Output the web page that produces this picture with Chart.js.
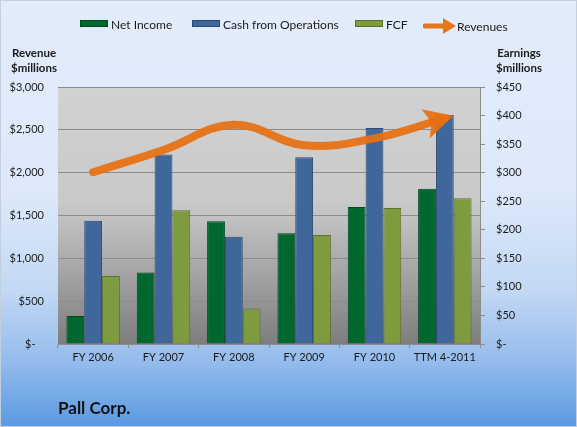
<!DOCTYPE html>
<html>
<head>
<meta charset="utf-8">
<title>Pall Corp.</title>
<script src="https://cdn.jsdelivr.net/npm/chart.js@4.4.1/dist/chart.umd.min.js"></script>
<style>
  html, body { margin: 0; padding: 0; }
  body { width: 577px; height: 427px; overflow: hidden; font-family: Lato, "Open Sans", sans-serif; color: #1a1a1a; }
  #wrap {
    position: relative; width: 577px; height: 427px; box-sizing: border-box;
    border: 1px solid #c4cfdd;
    background: linear-gradient(to bottom, #e2ecfb 0%, #dde9fa 45%, #c3d8f4 68%, #94bbec 85%, #5b9ae2 100%);
  }
  #chart { position: absolute; left: 0; top: 0; }
  .lg { position: absolute; top: 17px; font-size: 12px; line-height: 14px; white-space: nowrap; }
  .lg .box { display: inline-block; width: 28px; height: 7px; vertical-align: 2px; margin-right: 3px; box-sizing: border-box; }
  .lg svg { vertical-align: -3px; margin-right: 1px; }
  .axt { position: absolute; top: 44px; font-size: 11.5px; font-weight: bold; line-height: 15px; text-align: center; }
  #title { position: absolute; left: 57px; top: 396px; font-size: 17px; font-weight: bold; color: #111; }
</style>
</head>
<body>
<div id="wrap">
  <canvas id="chart" width="577" height="427"></canvas>

  <div class="lg" style="left:79px"><span class="box" style="background:#00682f;border:1px solid #004a20"></span>Net Income</div>
  <div class="lg" style="left:191px"><span class="box" style="background:#3f679b;border:1px solid #2a4a73"></span>Cash from Operations</div>
  <div class="lg" style="left:354px"><span class="box" style="background:#7f9b40;border:1px solid #5c722c"></span>FCF</div>
  <div class="lg" style="left:422px"><svg width="33" height="16" viewBox="0 0 33 16"><line x1="2" y1="8" x2="22" y2="8" stroke="#e8761a" stroke-width="5" stroke-linecap="round"/><polygon points="20,0 33,8 20,16" fill="#e8761a"/></svg>Revenues</div>

  <div class="axt" style="left:8px;width:50px">Revenue<br>$millions</div>
  <div class="axt" style="left:493px;width:50px">Earnings<br>$millions</div>
  <div id="title">Pall Corp.</div>
</div>

<script>
  // values, $ millions
  const categories = ['FY 2006', 'FY 2007', 'FY 2008', 'FY 2009', 'FY 2010', 'TTM 4-2011']
  const revenues = [2005, 2265, 2560, 2320, 2400, 2635]
  const netIncome = [49, 125, 215, 194, 240, 272]
  const cashFromOps = [216, 332, 188, 327, 378, 401]
  const fcf = [119, 234, 62, 191, 238, 255]

  const gridGray = '#8c8c8c'
  const lineOrange = 'rgba(230,112,18,0.93)'

  // gray gradient behind the plot
  const plotBackground = {
    id: 'plotBackground',
    beforeDraw(chart) {
      const { ctx, chartArea: a } = chart
      const g = ctx.createLinearGradient(0, a.top, 0, a.bottom)
      g.addColorStop(0, '#d2d2d2')
      g.addColorStop(0.45, '#c9c9c9')
      g.addColorStop(0.72, '#a5a5a5')
      g.addColorStop(1, '#7d7d7d')
      ctx.save()
      ctx.fillStyle = g
      ctx.fillRect(a.left, a.top, a.right - a.left, a.bottom - a.top)
      ctx.restore()
    }
  }

  // arrow head at the end of the revenue line
  const arrowHead = {
    id: 'arrowHead',
    afterDatasetsDraw(chart) {
      const meta = chart.getDatasetMeta(0)
      const pts = meta.data
      if (!pts.length) return
      const p = pts[pts.length - 1]
      const q = pts[pts.length - 2]
      let dx = p.x - (p.cp1x !== undefined ? p.cp1x : q.x)
      let dy = p.y - (p.cp1y !== undefined ? p.cp1y : q.y)
      const len = Math.hypot(dx, dy) || 1
      dx /= len; dy /= len
      const tipX = p.x + dx * 9, tipY = p.y + dy * 9
      const L = 29, W = 15
      const bx = tipX - dx * L, by = tipY - dy * L
      const { ctx } = chart
      ctx.save()
      ctx.fillStyle = lineOrange
      ctx.beginPath()
      ctx.moveTo(tipX, tipY)
      ctx.lineTo(bx - dy * W, by + dx * W)
      ctx.lineTo(bx + dx * 6, by + dy * 6)
      ctx.lineTo(bx + dy * W, by - dx * W)
      ctx.closePath()
      ctx.fill()
      ctx.restore()
    }
  }

  const font = { family: 'Lato, "Open Sans", sans-serif', size: 11 }

  new Chart(document.getElementById('chart'), {
    data: {
      labels: categories,
      datasets: [
        {
          type: 'line', label: 'Revenues', data: revenues, yAxisID: 'yRev', order: 0,
          borderColor: lineOrange, borderWidth: 8, borderCapStyle: 'round',
          tension: 0.4, pointRadius: 0, fill: false
        },
        {
          type: 'bar', label: 'Net Income', data: netIncome, yAxisID: 'yEarn', order: 1,
          backgroundColor: '#00682f', borderColor: '#004a20', borderWidth: 1
        },
        {
          type: 'bar', label: 'Cash from Operations', data: cashFromOps, yAxisID: 'yEarn', order: 1,
          backgroundColor: '#3f679b', borderColor: '#2a4a73', borderWidth: 1
        },
        {
          type: 'bar', label: 'FCF', data: fcf, yAxisID: 'yEarn', order: 1,
          backgroundColor: '#7f9b40', borderColor: '#5c722c', borderWidth: 1
        }
      ]
    },
    options: {
      responsive: false,
      animation: false,
      layout: { padding: { top: 86, left: 0, right: 0, bottom: 0 } },
      datasets: { bar: { barPercentage: 1, categoryPercentage: 0.76 } },
      plugins: { legend: { display: false }, tooltip: { enabled: false } },
      scales: {
        x: {
          offset: true,
          grid: { display: true, drawOnChartArea: false, offset: true, tickLength: 4, color: gridGray },
          border: { color: gridGray },
          ticks: { color: '#1a1a1a', font, padding: 3, maxRotation: 0 },
          afterFit(scale) { scale.height = 84 }
        },
        yRev: {
          position: 'left', min: 0, max: 3000,
          grid: { color: gridGray, drawTicks: false },
          border: { display: false },
          ticks: {
            stepSize: 500, padding: 14, color: '#1a1a1a', font,
            callback: v => v === 0 ? '$-   ' : '$' + v.toLocaleString('en-US')
          },
          afterFit(scale) { scale.width = 57 }
        },
        yEarn: {
          position: 'right', min: 0, max: 450,
          grid: { drawOnChartArea: false, tickLength: 5, color: gridGray },
          border: { color: gridGray },
          ticks: {
            stepSize: 50, padding: 11, color: '#1a1a1a', font,
            callback: v => v === 0 ? '$-' : '$' + v
          },
          afterFit(scale) { scale.width = 98 }
        }
      }
    },
    plugins: [plotBackground, arrowHead]
  })
</script>
</body>
</html>
